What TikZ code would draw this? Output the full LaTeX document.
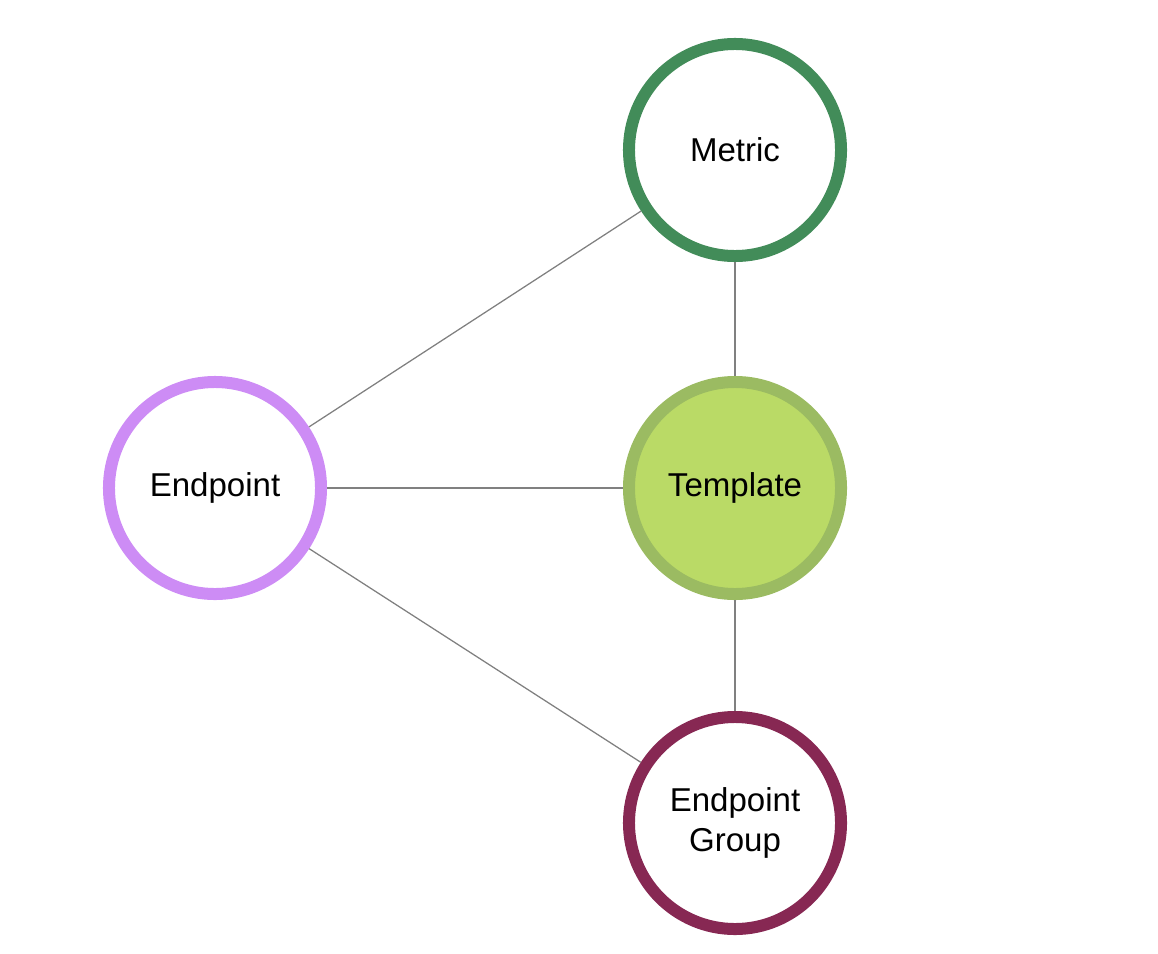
\documentclass[tikz,border=0pt]{standalone}
\usepackage{fontspec}
\setmainfont{Liberation Sans}
\usepackage{tikz}
\usetikzlibrary{positioning}

\definecolor{metricgreen}{RGB}{66,140,89}
\definecolor{templateline}{RGB}{155,187,98}
\definecolor{templatefill}{RGB}{186,218,102}
\definecolor{endpointpurple}{RGB}{205,140,245}
\definecolor{groupred}{RGB}{135,40,83}
\definecolor{linkgray}{RGB}{128,128,128}

\tikzset{
    entity/.style={circle, draw, fill=white, line width=0.3cm, minimum size=5.3cm, inner sep=0pt,
        align=center, font=\fontsize{23.5}{28}\selectfont},
    link/.style={draw=linkgray, line width=0.9pt}
}

\begin{document}
\begin{tikzpicture}[x=0.025cm, y=-0.025cm]
        \useasboundingbox (0,0) rectangle (1158,954);

        % Entities.
        \node[entity, draw=metricgreen] (metric) at (735,150) {Metric};
        \node[entity, draw=templateline, fill=templatefill] (template) at (735,488) {Template};
        \node[entity, draw=endpointpurple] (endpoint) at (215,488) {Endpoint};
        \node[entity, draw=groupred] (group) at (735,823) {Endpoint\\Group};

        % Links.
        \draw[link] (endpoint) -- (metric);
        \draw[link] (endpoint) -- (template);
        \draw[link] (endpoint) -- (group);
        \draw[link] (metric) -- (template);
        \draw[link] (template) -- (group);
    \end{tikzpicture}
\end{document}
